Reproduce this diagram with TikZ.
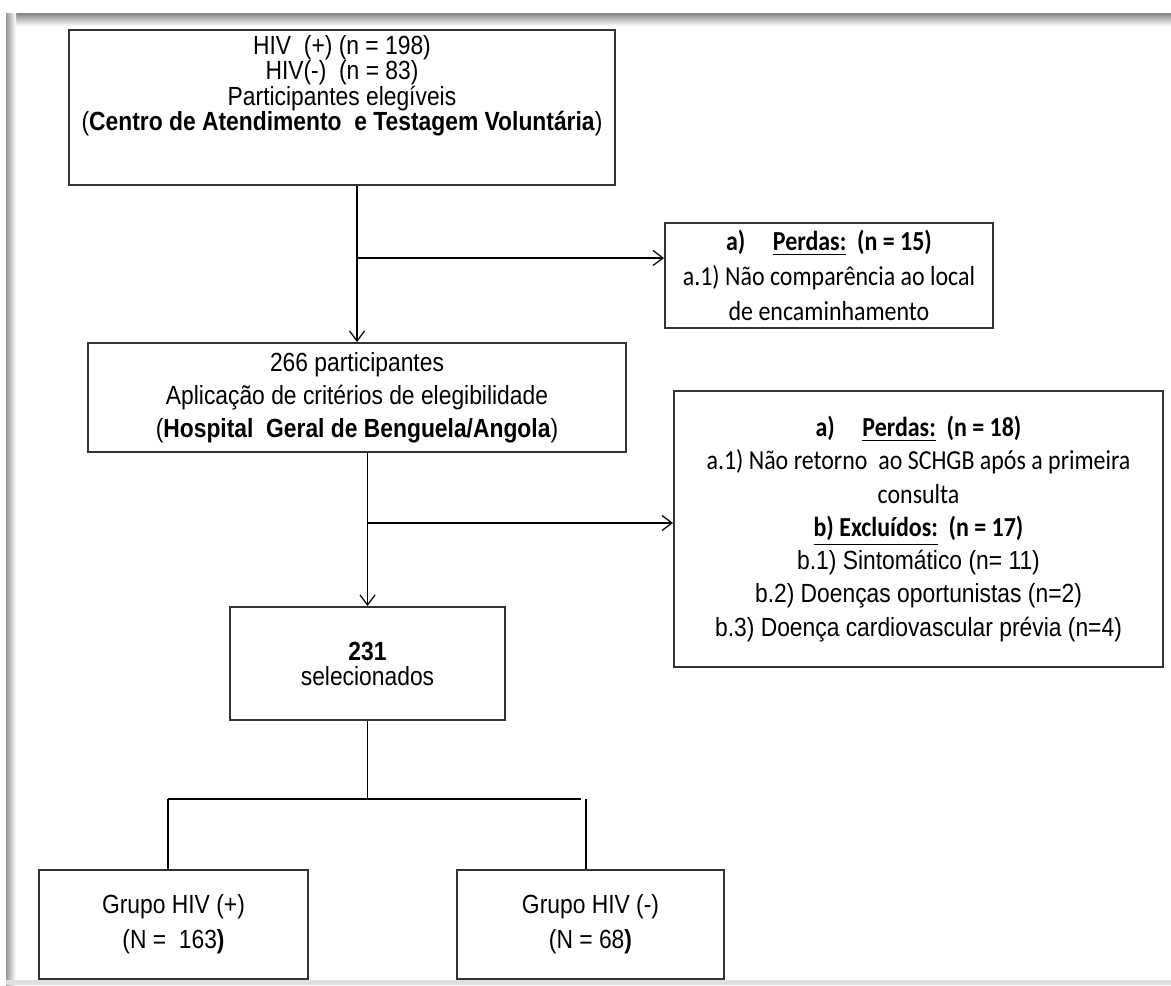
\documentclass[tikz,border=0pt]{standalone}
\usepackage{fontspec}
\setmainfont{Liberation Sans}[FakeStretch=0.87]
\newfontfamily\calib{Carlito}[FakeStretch=0.87]
\usetikzlibrary{arrows.meta,positioning,calc}

\newcommand\cb{\calib\fontsize{11}{13.3}\selectfont}
\newcommand\ar{\normalfont\fontsize{10.5}{13.2}\selectfont}

\begin{document}
\begin{tikzpicture}[x=0.4pt,y=-0.4pt,
    caixa/.style 2 args={draw=black!80,line width=0.8pt,inner sep=0pt,align=flush center,
        text width=#1,minimum width=#1,minimum height=#2},
    seta/.style={-{Straight Barb[length=4pt,width=6pt]},line width=0.5pt},
    liga/.style={line width=0.5pt}]
    \useasboundingbox (0,0) rectangle (1171,985);

    % Moldura
    \shade[top color=black!45,bottom color=white] (6,14) rectangle (1171,26);
    \shade[left color=black!40,right color=white] (6,14) rectangle (16,985);
    \fill[black!12] (6,980) rectangle (1171,985);

    % Caixas
    \node[caixa={218.4pt}{62pt}] (elig) at (342,107.5) {};
    \node[align=flush center,text width=218.4pt,inner sep=0pt,font=\fontsize{10.5}{10.2}\selectfont]
        (eligtxt) at (342,86)
        {HIV\ \ (+) (n = 198)\\HIV(-)\ \ (n = 83)\\Participantes elegíveis\\
         (\textbf{Centro de Atendimento\ \ e Testagem Voluntária})};

    \node[caixa={131.2pt}{42pt},font=\calib\fontsize{11}{14}\selectfont] (perda1) at (829,275.5)
        {\textbf{a)\quad\underline{Perdas:}\ \ (n = 15)}\\
         a.1) Não comparência ao local\\de encaminhamento};

    \node[caixa={215.2pt}{43.6pt},font=\fontsize{10.5}{13.2}\selectfont] (crit) at (357,397.5)
        {266 participantes\\Aplicação de critérios de elegibilidade\\
         (\textbf{Hospital\ \ Geral de Benguela/Angola})};

    \node[caixa={195.6pt}{110.4pt},font=\cb] (perda2) at (918.5,529)
        {\textbf{a)\quad\underline{Perdas:}\ \ (n = 18)}\\
         a.1) Não retorno\ \ ao SCHGB após a primeira\\consulta\\
         \textbf{\underline{b) Excluídos:}\ \ (n = 17)}\\
         {\ar b.1) Sintomático (n= 11)}\\
         {\ar b.2) Doenças oportunistas (n=2)}\\
         {\ar b.3) Doença cardiovascular prévia (n=4)}};

    \node[caixa={110pt}{45.2pt},font=\fontsize{10.5}{10}\selectfont] (sel) at (367.5,663.5)
        {\textbf{231}\\selecionados\par\vspace*{8.8pt}};

    \node[caixa={107.6pt}{43.6pt},font=\fontsize{10.5}{14}\selectfont] (hivpos) at (173.5,924.5)
        {Grupo HIV (+)\\(N =\ \ 163\textbf{)}};
    \node[caixa={106.8pt}{43.6pt},font=\fontsize{10.5}{14}\selectfont] (hivneg) at (590.5,924.5)
        {Grupo HIV (-)\\(N = 68\textbf{)}};

    % Ligacoes
    \coordinate (ramo1) at (357,258);
    \coordinate (ramo2) at (367,523);
    \coordinate (divE) at (168,799);
    \coordinate (divD) at (581,799);
    \coordinate (divD2) at (586,799);

    \draw[seta] (crit.north |- elig.south) -- (crit.north);
    \draw[seta] (ramo1) -- (ramo1 -| perda1.west);
    \draw[seta] (sel.north |- crit.south) -- (sel.north);
    \draw[seta] (ramo2) -- (ramo2 -| perda2.west);
    \draw[liga] (sel.south) -- (sel.south |- divE);
    \draw[line width=0.8pt] (divE) -- (divD);
    \draw[liga] (divE) -- (divE |- hivpos.north);
    \draw[liga] (divD2) -- (divD2 |- hivneg.north);
\end{tikzpicture}
\end{document}
